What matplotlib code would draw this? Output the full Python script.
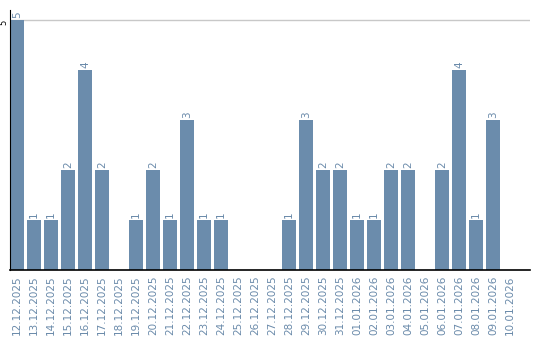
import matplotlib
matplotlib.use('Agg')
import matplotlib.pyplot as plt
import numpy as np

dates = ['12.12.2025', '13.12.2025', '14.12.2025', '15.12.2025', '16.12.2025',
         '17.12.2025', '18.12.2025', '19.12.2025', '20.12.2025', '21.12.2025',
         '22.12.2025', '23.12.2025', '24.12.2025', '25.12.2025', '26.12.2025',
         '27.12.2025', '28.12.2025', '29.12.2025', '30.12.2025', '31.12.2025',
         '01.01.2026', '02.01.2026', '03.01.2026', '04.01.2026', '05.01.2026',
         '06.01.2026', '07.01.2026', '08.01.2026', '09.01.2026', '10.01.2026']
counts = [5, 1, 1, 2, 4, 2, 0, 1, 2, 1, 3, 1, 1, 0, 0,
          0, 1, 3, 2, 2, 1, 1, 2, 2, 0, 2, 4, 1, 3, 0]

bar_color = '#6b8cac'
text_color = '#6a8aaa'

fig = plt.figure(figsize=(5.4, 3.4), dpi=100)
ax = fig.add_axes([10/540, 70/340, 520/540, 260/340])

x = np.arange(len(dates))
ax.bar(x, counts, width=0.82, color=bar_color, zorder=2)
for xi, v in zip(x, counts):
    if v > 0:
        ax.text(xi, v + 0.04, str(v), rotation=90, ha='center', va='bottom',
                fontsize=7.5, color=text_color)

ax.set_xlim(-0.41, 30.18)
ax.set_ylim(0, 5.2)
ax.set_yticks([5])
ax.set_yticklabels(['5'], rotation=90, va='top', ha='right', fontsize=6)
ax.tick_params(axis='y', length=0, pad=1)
ax.yaxis.grid(True, color='#c8c8c8', linewidth=1, zorder=0)
ax.set_xticks(x)
ax.set_xticklabels(dates, rotation=90, fontsize=7.5, color=text_color)
ax.tick_params(axis='x', length=0, pad=4)

for s in ['top', 'right']:
    ax.spines[s].set_visible(False)
ax.spines['left'].set_color('black')
ax.spines['bottom'].set_color('black')
ax.spines['bottom'].set_linewidth(1.2)

fig.savefig('out.png', dpi=100)
